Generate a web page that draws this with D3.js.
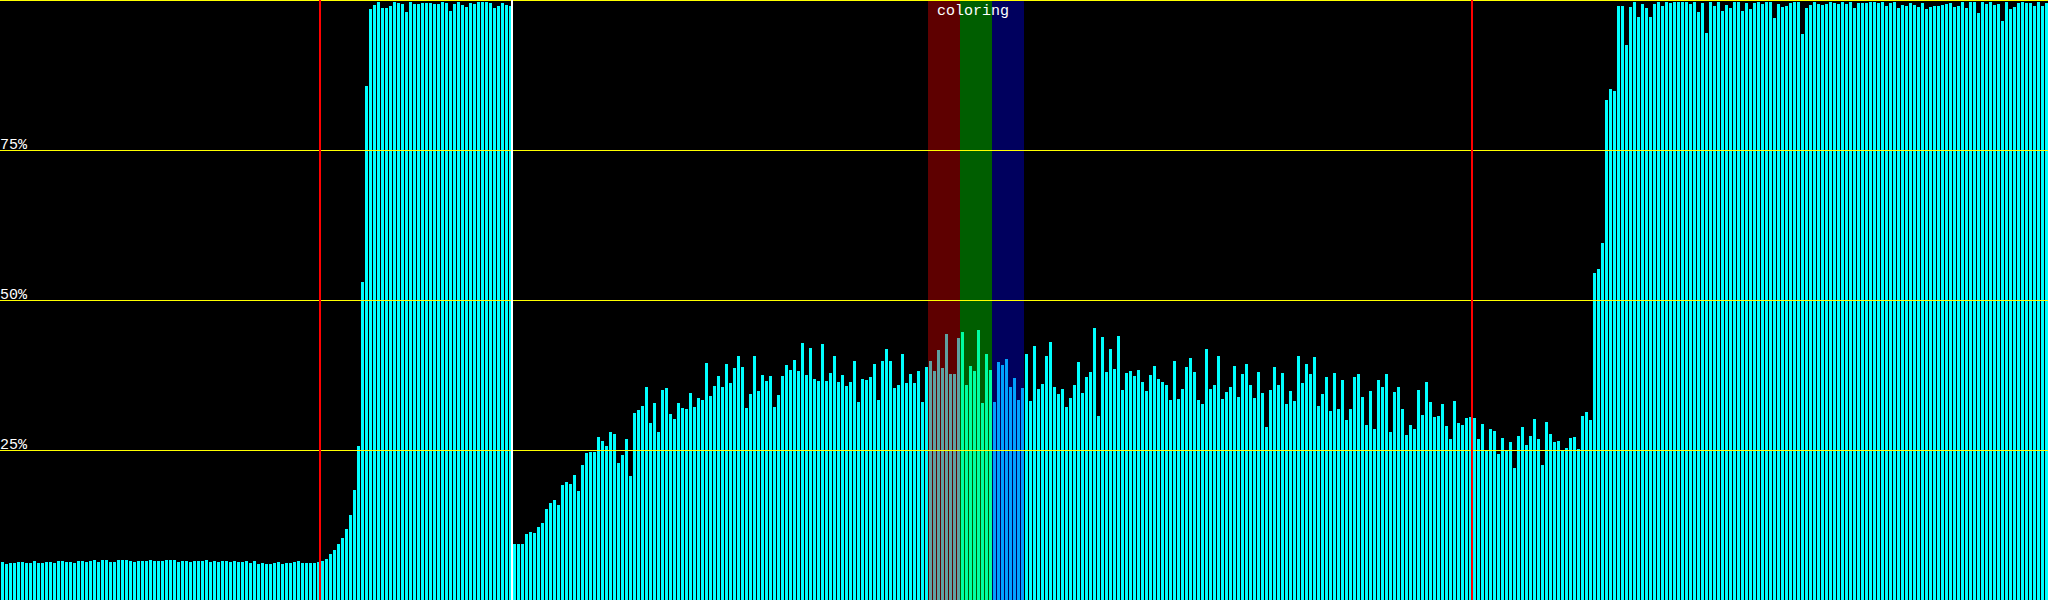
<!DOCTYPE html>
<html><head><meta charset="utf-8">
<script src="https://cdn.jsdelivr.net/npm/d3@7"></script>
<style>html,body{margin:0;padding:0;background:#000;overflow:hidden}svg{display:block}</style>
</head><body><svg id="chart" width="2048" height="600"></svg>
<script>
// ---- data (percent per bucket) ----
const segBaseA = [6.3,6.0,6.2,6.2,6.3,6.3,6.2,6.2,6.5,6.2,6.2,6.3,6.3,6.2,6.5,6.5,6.3,6.3,6.2,6.5,6.5,6.3,6.5,6.7,6.3,6.7,6.7,6.3,6.3,6.7,6.7,6.7,6.5,6.3,6.5,6.5,6.5,6.7,6.5,6.5,6.5,6.7,6.7,6.7,6.3,6.5,6.5];
const segBaseB = [6.3,6.5,6.5,6.5,6.7,6.3,6.5,6.3,6.5,6.5,6.3,6.5,6.3,6.3,6.5,6.2,6.5,6.0,6.2,6.0,6.0,6.2,6.3,6.0,6.2,6.2,6.3,6.5,6.2,6.2,6.2,6.2,6.3];
const segRise1 = [6.5,6.9,7.6,8.4,9.3,10.4,11.9,14.2,18.3,25.7,53.0,85.7,98.5,99.1];
const segPlateau1 = [99.7,98.7,98.7,99.0,99.7,99.5,99.4,98.0,99.7,99.4,99.4,99.5,99.5,99.5,99.4,99.4,99.7,99.5,98.2,99.4,99.7,99.2,98.9,99.5,99.4,99.7,99.7,99.7,99.5,98.7,99.0,99.5,99.2,99.0];
const segClimb = [9.3,9.3,9.3,11.0,11.4,11.2,12.2,12.8,15.2,16.1,16.7,15.8];
const segMidA = [19.2,19.6,19.3,20.9,18.2,22.5,24.5,24.7,24.7,27.2,26.5,25.6,28.0,27.7,22.8,24.2,26.8,20.7,31.2,31.7,32.3,35.5,29.5,32.8,28.0,35.0,35.3,31.0,30.2,32.8,32.0,31.8,34.5,32.1,33.7,33.4,39.5,34.0,35.7,37.3,35.5,39.3,36.2,38.6,40.7,38.8,32.0];
const segMidB = [34.4,40.7,34.9,37.5,36.5,37.4,32.1,34.1,37.4,39.2,38.4,40.0,38.1,42.9,37.5,42.0,36.9,36.5,42.7,36.5,37.8,40.7,36.4,37.5,35.7,36.4,39.9,33.0,36.9,36.7,37.2,39.3,33.4,39.9,41.8,39.9,35.3,35.8,41.0,36.2,37.7,36.2,38.1,33.0,38.8,39.9,38.1];
const segMidC = [41.7,38.6,44.3,37.7,37.7,43.7,44.6,35.8,39.0,38.1,45.0,32.8,41.0,38.3,33.0,39.7,39.2,40.2,35.5,37.0,33.4,35.3,41.0,33.2,42.3,35.1,36.0,40.7,43.0,35.5,34.3,35.1,32.1,33.7,35.8,39.7,34.5,37.2,38.0,45.3,30.7,43.8,38.0,41.8,38.5,44.0,35.0];
const segMidD = [37.8,38.1,37.4,38.3,36.4,34.9,37.5,39.0,36.9,36.4,35.8,33.4,39.9,33.5,35.1,38.8,40.3,38.0,33.4,32.7,41.8,35.1,35.8,40.7,33.5,34.7,35.5,39.0,33.9,37.7,39.3,35.8,33.7,38.0,34.5,28.8,35.0,38.8,35.8,37.8,32.7,34.9,33.2,40.7,36.2,39.3];
const segMidE = [37.7,40.5,32.3,34.3,37.2,31.5,37.8,31.8,36.7,30.0,31.8,37.2,37.7,33.9,29.1,34.9,28.5,36.7,35.5,37.7,28.0,34.7,35.5,31.8,27.5,29.1,28.5,35.0,30.8,36.4,33.0,30.5,30.7,32.7,29.0,26.8,33.2,29.5,29.1,30.4,30.5,30.4,26.8,29.3,25.0,28.5,28.2];
const segRise2 = [24.4,27.0,25.0,26.3,22.0,27.4,28.8,25.8,27.4,30.2,26.8,22.5,29.6,27.7,26.3,26.5,25.0,25.3,27.0,27.2,25.2,30.7,31.3,30.0,54.5,55.2,59.5,83.4,85.1,84.8,
  99.0,99.0,92.5,98.8,99.7,97.2,99.3,98.7,97.2,99.3,99.7,99.0,99.7,99.5,99.7,99.7,99.7];
const segPlateau2 = [99.7,99.3,99.7,98.0,99.5,94.5,99.7,99.0,99.7,98.2,99.2,98.7,99.7,99.7,98.2,99.5,98.5,99.5,99.7,99.3,99.7,99.7,97.0,99.3,98.8,99.0,99.5,99.7,99.7,94.3,98.7,99.2,99.7,99.3,99.2,99.3,99.7,99.5,99.3,99.7,99.3,99.7,98.7,99.5,99.5,99.5,99.7];
const segPlateau3 = [99.7,99.5,99.7,99.0,99.5,99.7,98.7,99.2,99.0,99.5,99.2,98.8,99.5,98.5,98.8,99.0,99.0,99.2,99.3,99.5,98.8,99.0,99.7,98.7,99.7,99.7,97.8,99.7,99.3,99.7,99.2,99.3,96.5,99.7,98.5,98.8,99.5,99.7,99.5,99.5,99.0,99.7,99.0,99.5];

const values = [].concat(segBaseA, segBaseB, segRise1, segPlateau1, segClimb, segMidA, segMidB,
  segMidC, segMidD, segMidE, segRise2, segPlateau2, segPlateau3);
const categories = d3.range(values.length);

const gridValues = [25, 50, 75, 100];
const tickValues = [25, 50, 75];
const tickLabels = ["25%", "50%", "75%"];
const markerIndex = [80, 128, 368];
const markerColor = ["#ff0000", "#ffffff", "#ff0000"];
const bandStart = [232, 240, 248];
const bandEnd = [240, 248, 256];
const bandColor = ["#ff0000", "#00ff00", "#0000ff"];
const title = "coloring";

// ---- drawing ----
const W = 2048, H = 600;
const svg = d3.select("#chart");
svg.append("rect").attr("width", W).attr("height", H).attr("fill", "#000");

const x = d3.scaleBand().domain(categories).range([0, W])
  .paddingInner(0.25).paddingOuter(0.125).align(1);
const y = d3.scaleLinear().domain([0, 100]).range([H, 0]);
const gap = x.step() - x.bandwidth();
const edge = i => x(i) - gap;

svg.append("g").selectAll("rect").data(values).join("rect")
  .attr("x", (d, i) => x(i))
  .attr("y", d => y(d))
  .attr("width", x.bandwidth())
  .attr("height", d => H - y(d))
  .attr("fill", "#00ffff")
  .attr("shape-rendering", "crispEdges");

svg.append("g").selectAll("rect").data(bandStart).join("rect")
  .attr("x", d => edge(d))
  .attr("y", 0)
  .attr("width", (d, i) => edge(bandEnd[i]) - edge(d))
  .attr("height", H)
  .attr("fill", (d, i) => bandColor[i])
  .attr("fill-opacity", 0.37)
  .attr("shape-rendering", "crispEdges");

svg.append("g").selectAll("line").data(gridValues).join("line")
  .attr("x1", 0).attr("x2", W)
  .attr("y1", d => y(d) + 0.5).attr("y2", d => y(d) + 0.5)
  .attr("stroke", "#ffff00").attr("stroke-width", 1);

svg.append("g").selectAll("line").data(markerIndex).join("line")
  .attr("x1", d => edge(d)).attr("x2", d => edge(d))
  .attr("y1", 0).attr("y2", H)
  .attr("stroke", (d, i) => markerColor[i]).attr("stroke-width", 2);

svg.append("g").selectAll("text").data(tickValues).join("text")
  .attr("x", 0).attr("y", d => y(d) - 1)
  .attr("fill", "#fff")
  .attr("font-family", "'Liberation Mono', monospace")
  .attr("font-size", 15)
  .text((d, i) => tickLabels[i]);

svg.append("text")
  .attr("x", edge(bandStart[0]) + 9).attr("y", 15)
  .attr("fill", "#fff")
  .attr("font-family", "'Liberation Mono', monospace")
  .attr("font-size", 15)
  .text(title);
</script></body></html>
